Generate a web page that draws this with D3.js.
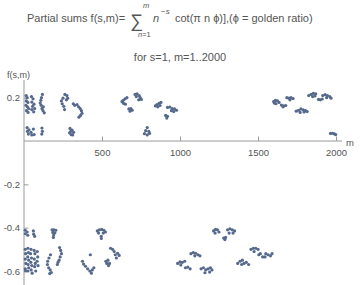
<!DOCTYPE html>
<html>
<head>
<meta charset="utf-8">
<script src="https://cdn.jsdelivr.net/npm/d3@7"></script>
<style>
  body { margin: 0; background: #fff; }
  svg { display: block; font-family: "Liberation Sans", Arial, sans-serif; }
</style>
</head>
<body>
<div id="chart"></div>
<script>
// partial sums as [m, f(1,m)] clumps
const nearZero = [
    [20, 0.062], [22, 0.045], [32, 0.052], [28, 0.032], [45, 0.04], [60, 0.055], [65, 0.03], [50, 0.028],
    [115, 0.06], [118, 0.045], [114, 0.032],
    [295, 0.058], [300, 0.045], [292, 0.038], [302, 0.03], [312, 0.028], [318, 0.04], [308, 0.05],
    [790, 0.062], [780, 0.048], [800, 0.045], [772, 0.034], [790, 0.028], [805, 0.035],
    [1965, 0.035], [1978, 0.036], [1990, 0.033], [1998, 0.03]
];
const upperLeft = [
    [14, 0.21], [20, 0.2], [15, 0.185], [25, 0.178], [13, 0.165], [22, 0.158], [30, 0.15], [16, 0.14], [26, 0.132],
    [48, 0.205], [58, 0.195], [50, 0.18], [64, 0.17], [55, 0.16], [68, 0.15], [50, 0.145], [62, 0.135],
    [118, 0.215], [112, 0.2], [108, 0.188], [104, 0.175], [110, 0.165], [115, 0.15], [122, 0.14], [130, 0.13], [124, 0.158],
    [262, 0.215], [275, 0.21], [280, 0.198], [250, 0.198], [240, 0.185], [245, 0.172], [255, 0.16], [260, 0.145], [272, 0.19],
    [316, 0.172], [325, 0.165], [340, 0.168], [350, 0.158], [360, 0.15], [368, 0.14], [372, 0.128], [362, 0.118], [352, 0.11]
];
const upperMid = [
    [660, 0.2], [648, 0.195], [636, 0.188], [628, 0.182], [638, 0.174], [650, 0.17],
    [712, 0.215], [725, 0.218], [738, 0.21], [720, 0.205], [745, 0.2], [752, 0.192], [735, 0.19],
    [672, 0.148], [685, 0.15], [680, 0.138], [694, 0.142],
    [878, 0.178], [866, 0.174], [852, 0.168], [842, 0.162], [858, 0.158], [872, 0.164],
    [920, 0.155], [935, 0.157], [950, 0.15], [965, 0.148], [978, 0.142], [945, 0.14], [960, 0.136],
    [908, 0.118], [920, 0.114], [915, 0.106]
];
const upperRight = [
    [1600, 0.182], [1612, 0.188], [1625, 0.185], [1635, 0.178], [1615, 0.172], [1605, 0.175],
    [1650, 0.166], [1665, 0.162], [1678, 0.164], [1660, 0.158],
    [1685, 0.2], [1698, 0.198], [1712, 0.2], [1725, 0.196], [1705, 0.19],
    [1745, 0.138], [1760, 0.142], [1775, 0.148], [1790, 0.144], [1805, 0.14], [1815, 0.136], [1770, 0.132], [1795, 0.134],
    [1825, 0.21], [1840, 0.215], [1855, 0.22], [1870, 0.218], [1850, 0.205], [1865, 0.208],
    [1888, 0.192], [1900, 0.19], [1912, 0.194],
    [1915, 0.21], [1930, 0.214], [1945, 0.21], [1960, 0.205], [1940, 0.2], [1968, 0.198]
];
const lowerLeft = [
    [8, -0.412], [8, -0.428], [20, -0.42], [24, -0.435],
    [60, -0.415], [62, -0.43], [68, -0.44],
    [180, -0.41], [192, -0.41], [204, -0.412], [185, -0.422], [198, -0.424], [190, -0.434], [188, -0.445],
    [8, -0.5], [10, -0.52], [8, -0.545], [12, -0.565], [8, -0.59], [10, -0.6],
    [25, -0.495], [28, -0.515], [24, -0.535], [30, -0.55], [26, -0.57], [30, -0.585], [25, -0.6],
    [45, -0.5], [42, -0.52], [48, -0.54], [44, -0.56], [50, -0.575], [46, -0.595], [52, -0.61],
    [65, -0.505], [70, -0.52], [66, -0.545], [72, -0.565], [68, -0.58], [75, -0.6],
    [85, -0.51], [88, -0.535], [84, -0.555], [90, -0.575],
    [170, -0.525], [160, -0.54], [152, -0.555], [150, -0.57], [158, -0.585], [168, -0.595], [175, -0.607], [165, -0.612],
    [228, -0.492], [235, -0.505], [240, -0.52], [232, -0.535], [225, -0.55], [218, -0.56], [214, -0.57],
    [425, -0.525], [375, -0.555], [382, -0.568], [394, -0.578], [408, -0.59], [422, -0.6], [438, -0.595], [448, -0.585], [432, -0.61]
];
const lowerMid = [
    [470, -0.415], [483, -0.41], [498, -0.408], [512, -0.412], [522, -0.42], [478, -0.425], [508, -0.425], [495, -0.44], [496, -0.45],
    [555, -0.495], [568, -0.5], [578, -0.51],
    [585, -0.525], [600, -0.518], [610, -0.528], [592, -0.54],
    [525, -0.555], [538, -0.55], [530, -0.565], [548, -0.565], [542, -0.575],
    [985, -0.565], [1000, -0.558], [1015, -0.56], [1030, -0.555], [1005, -0.572],
    [1035, -0.585], [1050, -0.582], [1065, -0.59],
    [1070, -0.52], [1085, -0.515], [1100, -0.518], [1115, -0.525], [1128, -0.53], [1095, -0.53],
    [1135, -0.59], [1150, -0.585], [1165, -0.595], [1180, -0.59], [1195, -0.585], [1205, -0.595], [1160, -0.608], [1190, -0.605]
];
const lowerRight = [
    [1215, -0.415], [1228, -0.408], [1240, -0.41], [1225, -0.425], [1250, -0.42],
    [1305, -0.41], [1320, -0.405], [1335, -0.41], [1350, -0.415], [1315, -0.425], [1340, -0.425],
    [1280, -0.448], [1292, -0.445], [1288, -0.455],
    [1370, -0.565], [1385, -0.555], [1400, -0.55], [1395, -0.57], [1410, -0.565], [1425, -0.56], [1440, -0.57],
    [1455, -0.5], [1470, -0.495], [1485, -0.495], [1500, -0.5], [1475, -0.51],
    [1505, -0.525], [1515, -0.52], [1530, -0.535], [1550, -0.52], [1565, -0.525], [1580, -0.53], [1545, -0.535], [1590, -0.52]
];

const xTicks = [500, 1000, 1500, 2000];
const yTicks = [-0.6, -0.4, -0.2, 0.2];

const W = 360, H = 285;
const svg = d3.select('#chart').append('svg').attr('width', W).attr('height', H);

const x = d3.scaleLinear().domain([0, 2000]).range([24, 336]);
const y = d3.scaleLinear().domain([-0.6, 0.2]).range([271, 97.7]);

const axisCol = '#9a9a9a', textCol = '#555';
const font = '"Liberation Sans", Arial, sans-serif';

// title
const t = svg.append('g').attr('fill', textCol);
t.append('text').attr('x', 27).attr('y', 22).attr('font-size', 11).text('Partial sums f(s,m)=');
t.append('text').attr('x', 130).attr('y', 27).attr('font-size', 18).text('\u2211');
t.append('text').attr('x', 143).attr('y', 8).attr('font-size', 7.5).attr('font-style', 'italic').text('m');
t.append('text').attr('x', 138).attr('y', 37).attr('font-size', 7.5)
    .html('<tspan font-style="italic">n</tspan>=1');
t.append('text').attr('x', 153).attr('y', 22).attr('font-size', 11).attr('font-style', 'italic').text('n');
t.append('text').attr('x', 161).attr('y', 14).attr('font-size', 8).html('\u2212<tspan font-style="italic">s</tspan>');
t.append('text').attr('x', 175).attr('y', 22).attr('font-size', 11)
    .text('cot(\u03c0 n \u03d5)],(\u03d5 = golden ratio)');
t.append('text').attr('x', 180).attr('y', 61).attr('font-size', 11).attr('text-anchor', 'middle')
    .text('for s=1, m=1..2000');

// axes
const gx = svg.append('g').attr('transform', `translate(0,${y(0)})`);
gx.call(d3.axisBottom(x).tickValues(d3.range(100, 2001, 100)).tickSize(-2.5).tickFormat(''));
gx.call(d3.axisBottom(x).tickValues(xTicks).tickSize(-4.5).tickPadding(8).tickFormat(d3.format('d')));
gx.selectAll('.domain').remove();
gx.append('line').attr('x1', x(0)).attr('x2', 342).attr('stroke', axisCol);
gx.selectAll('.tick line').attr('stroke', axisCol);
gx.selectAll('.tick text').attr('fill', textCol).attr('font-size', 9.5).attr('font-family', font);
gx.append('text').attr('x', 350).attr('y', 5).attr('fill', textCol).attr('font-size', 9.5)
    .attr('font-family', font).text('m');

const gy = svg.append('g').attr('transform', `translate(${x(0)},0)`);
gy.call(d3.axisLeft(y).tickValues(d3.range(-0.65, 0.26, 0.05).filter(v => Math.abs(v) > 1e-6))
    .tickSize(-2.5).tickFormat(''));
gy.call(d3.axisLeft(y).tickValues(yTicks).tickSize(-4.5).tickPadding(4)
    .tickFormat(d => d3.format('.1f')(d).replace('\u2212', '-')));
gy.selectAll('.domain').remove();
gy.append('line').attr('y1', 80).attr('y2', H).attr('stroke', axisCol);
gy.selectAll('.tick line').attr('stroke', axisCol);
gy.selectAll('.tick text').attr('fill', textCol).attr('font-size', 9.5).attr('font-family', font);
svg.append('text').attr('x', 7).attr('y', 78).attr('fill', textCol).attr('font-size', 9)
    .text('f(s,m)');

// points
const all = [].concat(nearZero, upperLeft, upperMid, upperRight, lowerLeft, lowerMid, lowerRight);
svg.append('g').selectAll('circle')
    .data(all)
    .join('circle')
    .attr('cx', d => x(d[0]))
    .attr('cy', d => y(d[1]))
    .attr('r', 1.6)
    .attr('fill', '#56698c');
</script>
</body>
</html>
